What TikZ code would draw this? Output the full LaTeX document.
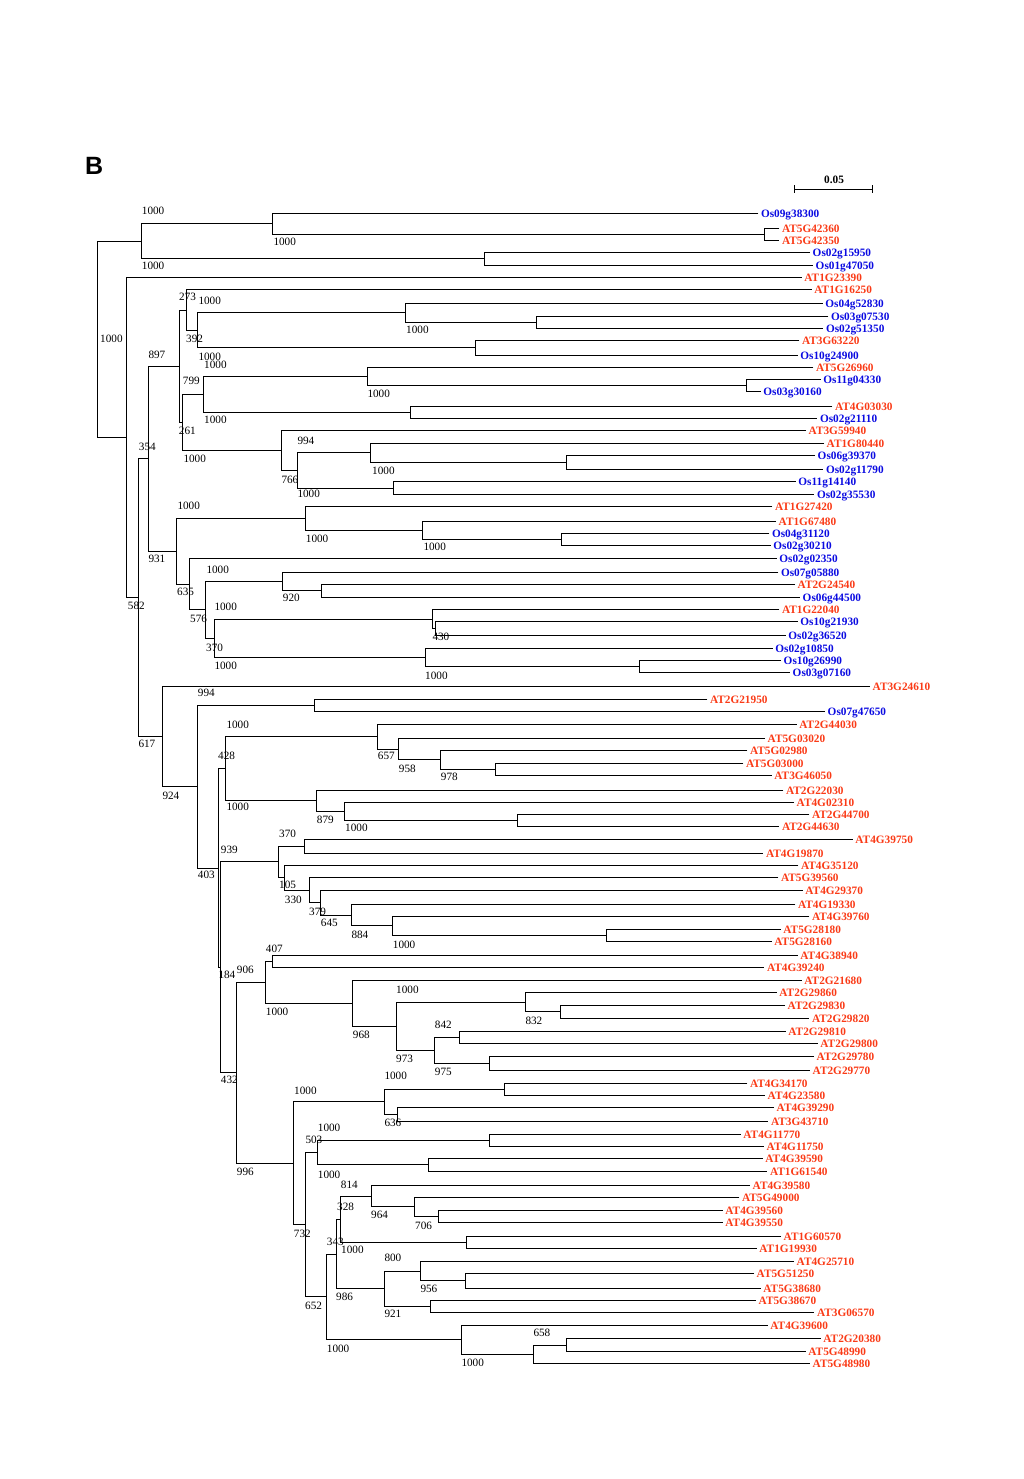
\documentclass[tikz,border=0pt]{standalone}
\usepackage{fontspec}
\setmainfont{Liberation Serif}
\newfontfamily\sansfam{Liberation Sans}
\definecolor{myred}{RGB}{250,58,22}
\definecolor{myblue}{RGB}{10,10,225}
\newcommand\leaffont{\fontsize{11.3}{13}\selectfont\bfseries}
\newcommand\bootfont{\fontsize{11.2}{13}\selectfont}
\tikzset{
  br/.style={line width=1.45pt, line join=miter},
  lf/.style={anchor=west, inner xsep=2.5pt, inner ysep=0pt, font=\leaffont, text height=7.5pt, text depth=0pt},
  rd/.style={lf, text=myred},
  bl/.style={lf, text=myblue},
  bs/.style={anchor=west, inner sep=0pt, font=\bootfont, text height=7.5pt, text depth=0pt}
}
\newcommand\mkc[3]{\coordinate (#1) at ({floor(#2)+0.5},{floor(#3)+0.5});}
\newcommand\leafR[4]{\node[rd] (#1) at (#2,{floor(#3)+0.5}) {#4};}
\newcommand\leafB[4]{\node[bl] (#1) at (#2,{floor(#3)+0.5}) {#4};}
\begin{document}
\begin{tikzpicture}[x=1pt,y=-1pt]
\useasboundingbox (0,0) rectangle (1024,1479);
% panel letter
\node[anchor=base west, inner sep=0pt, font=\sansfam\bfseries\fontsize{25}{28}\selectfont] (panel) at (85,175) {B};
% scale bar
\coordinate (sb1) at (794.5,189.5);
\coordinate (sb2) at (872.5,189.5);
\draw[br] (sb1) -- (sb2);
\draw[br] (794.5,185.5) -- (794.5,193);
\draw[br] (872.5,185.5) -- (872.5,193);
\node[inner sep=0pt, font=\leaffont, text height=7.5pt, text depth=0pt] (sbl) at (834,179.5) {0.05};
% leaves
\leafB{L1}{758.3}{213.5}{Os09g38300}
\leafR{L2}{779.3}{228.3}{AT5G42360}
\leafR{L3}{779.3}{240.3}{AT5G42350}
\leafB{L4}{810}{252.7}{Os02g15950}
\leafB{L5}{813}{265}{Os01g47050}
\leafR{L6}{801.7}{277.3}{AT1G23390}
\leafR{L7}{811.7}{289.7}{AT1G16250}
\leafB{L8}{822.7}{303.7}{Os04g52830}
\leafB{L9}{828.3}{316}{Os03g07530}
\leafB{L10}{823.3}{328.3}{Os02g51350}
\leafR{L11}{799.3}{340.7}{AT3G63220}
\leafB{L12}{797.7}{355}{Os10g24900}
\leafR{L13}{813.3}{367.5}{AT5G26960}
\leafB{L14}{820.7}{379.3}{Os11g04330}
\leafB{L15}{760.7}{391.7}{Os03g30160}
\leafR{L16}{832.3}{406.3}{AT4G03030}
\leafB{L17}{817.3}{418.3}{Os02g21110}
\leafR{L18}{806}{430.7}{AT3G59940}
\leafR{L19}{824}{443}{AT1G80440}
\leafB{L20}{815}{455.7}{Os06g39370}
\leafB{L21}{823.3}{469}{Os02g11790}
\leafB{L22}{795.7}{481.7}{Os11g14140}
\leafB{L23}{814.3}{494.3}{Os02g35530}
\leafR{L24}{772.3}{506.7}{AT1G27420}
\leafR{L25}{776}{521}{AT1G67480}
\leafB{L26}{769.3}{533.3}{Os04g31120}
\leafB{L27}{770.7}{545.7}{Os02g30210}
\leafB{L28}{776.7}{558}{Os02g02350}
\leafB{L29}{778.3}{572.5}{Os07g05880}
\leafR{L30}{795}{584.8}{AT2G24540}
\leafB{L31}{800}{597}{Os06g44500}
\leafR{L32}{779.3}{609.3}{AT1G22040}
\leafB{L33}{797.7}{621.7}{Os10g21930}
\leafB{L34}{785.7}{635.7}{Os02g36520}
\leafB{L35}{772.7}{648}{Os02g10850}
\leafB{L36}{781}{660.7}{Os10g26990}
\leafB{L37}{790}{672.7}{Os03g07160}
\leafR{L38}{870}{686.7}{AT3G24610}
\leafR{L39}{707.3}{699.5}{AT2G21950}
\leafB{L40}{825}{711.5}{Os07g47650}
\leafR{L41}{796.7}{724}{AT2G44030}
\leafR{L42}{765}{738.5}{AT5G03020}
\leafR{L43}{747.3}{750.7}{AT5G02980}
\leafR{L44}{743.3}{763}{AT5G03000}
\leafR{L45}{771.7}{775}{AT3G46050}
\leafR{L46}{783.3}{790}{AT2G22030}
\leafR{L47}{794}{802.3}{AT4G02310}
\leafR{L48}{809.3}{814}{AT2G44700}
\leafR{L49}{779.3}{826.7}{AT2G44630}
\leafR{L50}{852.7}{839.2}{AT4G39750}
\leafR{L51}{763.3}{853}{AT4G19870}
\leafR{L52}{798.3}{865.3}{AT4G35120}
\leafR{L53}{778.3}{877.7}{AT5G39560}
\leafR{L54}{802.7}{890.3}{AT4G29370}
\leafR{L55}{795.3}{904.3}{AT4G19330}
\leafR{L56}{809.3}{916.7}{AT4G39760}
\leafR{L57}{780.7}{929}{AT5G28180}
\leafR{L58}{771.7}{941.3}{AT5G28160}
\leafR{L59}{797.7}{955.5}{AT4G38940}
\leafR{L60}{764.3}{967.8}{AT4G39240}
\leafR{L61}{801.7}{980}{AT2G21680}
\leafR{L62}{776.7}{992.8}{AT2G29860}
\leafR{L63}{785}{1005.2}{AT2G29830}
\leafR{L64}{809.3}{1018.7}{AT2G29820}
\leafR{L65}{785.7}{1031.3}{AT2G29810}
\leafR{L66}{817.7}{1043.8}{AT2G29800}
\leafR{L67}{814}{1056.5}{AT2G29780}
\leafR{L68}{810}{1070.2}{AT2G29770}
\leafR{L69}{747.3}{1083}{AT4G34170}
\leafR{L70}{765}{1095}{AT4G23580}
\leafR{L71}{774}{1107.8}{AT4G39290}
\leafR{L72}{768.3}{1121.5}{AT3G43710}
\leafR{L73}{740.7}{1134}{AT4G11770}
\leafR{L74}{764}{1146.2}{AT4G11750}
\leafR{L75}{762.7}{1158.8}{AT4G39590}
\leafR{L76}{767.3}{1171}{AT1G61540}
\leafR{L77}{750}{1185.3}{AT4G39580}
\leafR{L78}{739.3}{1197.5}{AT5G49000}
\leafR{L79}{722.7}{1210}{AT4G39560}
\leafR{L80}{722.7}{1222.3}{AT4G39550}
\leafR{L81}{781}{1236.5}{AT1G60570}
\leafR{L82}{756.7}{1248.8}{AT1G19930}
\leafR{L83}{794}{1261.2}{AT4G25710}
\leafR{L84}{754}{1273.8}{AT5G51250}
\leafR{L85}{760.7}{1288}{AT5G38680}
\leafR{L86}{756}{1300.3}{AT5G38670}
\leafR{L87}{814.3}{1312.5}{AT3G06570}
\leafR{L88}{767.7}{1325.2}{AT4G39600}
\leafR{L89}{820.7}{1338.8}{AT2G20380}
\leafR{L90}{805.7}{1351.3}{AT5G48990}
\leafR{L91}{810}{1363.7}{AT5G48980}
% internal nodes
\mkc{nA1b}{764.3}{234.3}
\mkc{nA1}{272.7}{223.9}
\mkc{nA2}{484}{258.85}
\mkc{nA}{141.3}{241.4}
\mkc{nF1uu}{536}{322.15}
\mkc{nF1u}{405.7}{312.9}
\mkc{nF1l}{475.3}{347.85}
\mkc{nF1b}{197.3}{330.4}
\mkc{nF1}{186}{310.05}
\mkc{nG1aa}{746}{385.5}
\mkc{nG1a}{367}{376.5}
\mkc{nG1b}{410.7}{412.3}
\mkc{nG1u}{203.3}{394.4}
\mkc{nH1b}{566.7}{462.35}
\mkc{nH1}{370.7}{452.7}
\mkc{nH2}{393.3}{488}
\mkc{nH}{297.3}{470.35}
\mkc{nG1l}{281}{450.5}
\mkc{nG1}{182.7}{422.45}
\mkc{nF}{179}{366.25}
\mkc{nGa3}{561}{539.5}
\mkc{nGa2}{422.3}{530.25}
\mkc{nGa}{305}{518.5}
\mkc{nGb21}{321.7}{590.9}
\mkc{nGb2a}{282.7}{581.7}
\mkc{nGb2b1b}{435.7}{628.7}
\mkc{nGb2b1}{432.3}{619}
\mkc{nGb2b2b}{639.3}{666.7}
\mkc{nGb2b2}{425}{657.35}
\mkc{nGb2b}{214}{638.2}
\mkc{nGb2}{205.7}{609.95}
\mkc{nGb}{189.3}{584}
\mkc{nG}{176.7}{551.25}
\mkc{nD}{148.3}{458.75}
\mkc{nI1}{314}{705.5}
\mkc{nK1c}{495.7}{769}
\mkc{nK1b2}{440.7}{759.85}
\mkc{nK1b}{398.7}{749.2}
\mkc{nK1}{377.7}{736.6}
\mkc{nK2c}{517.3}{820.35}
\mkc{nK2b}{344.7}{811.3}
\mkc{nK2}{316.7}{800.65}
\mkc{nK}{225.7}{768.6}
\mkc{nM1}{304}{846.1}
\mkc{nQ2}{606.7}{935.15}
\mkc{nQ1}{392.3}{925.9}
\mkc{nQ}{351.3}{915.1}
\mkc{nP}{320.7}{902.7}
\mkc{nO}{309}{890.2}
\mkc{nN}{284.3}{877.75}
\mkc{nM}{278.3}{861.9}
\mkc{nT1}{272}{961.65}
\mkc{nW1b}{560}{1011.95}
\mkc{nW1}{525}{1002.4}
\mkc{nX1}{459.3}{1037.55}
\mkc{nX2}{489.3}{1063.35}
\mkc{nX}{434.3}{1050.45}
\mkc{nW}{396}{1026.4}
\mkc{nV}{352.3}{1003.2}
\mkc{nT}{265.7}{982.4}
\mkc{nY1}{504.7}{1089}
\mkc{nY2}{397.7}{1114.65}
\mkc{nY}{384.3}{1101.8}
\mkc{nZ1a}{489}{1140.1}
\mkc{nZ1b}{428}{1164.9}
\mkc{nZ1}{317.3}{1152.5}
\mkc{nZ6b}{438}{1216.15}
\mkc{nZ6}{414.7}{1206.8}
\mkc{nZ5}{371}{1196.05}
\mkc{nZ4b}{466.7}{1242.65}
\mkc{nZ4}{340.7}{1219.35}
\mkc{nZ8b}{465.3}{1280.9}
\mkc{nZ8}{420.7}{1271.05}
\mkc{nZ7b}{430.7}{1306.4}
\mkc{nZ7}{384.3}{1288.7}
\mkc{nZ3}{336}{1254}
\mkc{nZ10a}{566.7}{1345.05}
\mkc{nZ10}{533.3}{1354.4}
\mkc{nZ9}{461.3}{1339.8}
\mkc{nZ2}{326.3}{1296.9}
\mkc{nZ}{305}{1224.7}
\mkc{nU}{293.3}{1163.25}
\mkc{nS}{236}{1072.8}
\mkc{nL}{220.7}{967.35}
\mkc{nJ}{218.3}{868}
\mkc{nI}{197.7}{786.75}
\mkc{nE}{162.3}{736.7}
\mkc{nC}{138.3}{597.7}
\mkc{nB}{126.7}{437.5}
\mkc{nR}{97.3}{339.45}
% branches
\draw[br] (L2) -| (nA1b) |- (L3);
\draw[br] (L1) -| (nA1) |- (nA1b);
\draw[br] (L4) -| (nA2) |- (L5);
\draw[br] (nA1) -| (nA) |- (nA2);
\draw[br] (L9) -| (nF1uu) |- (L10);
\draw[br] (L8) -| (nF1u) |- (nF1uu);
\draw[br] (L11) -| (nF1l) |- (L12);
\draw[br] (nF1u) -| (nF1b) |- (nF1l);
\draw[br] (L7) -| (nF1) |- (nF1b);
\draw[br] (L14) -| (nG1aa) |- (L15);
\draw[br] (L13) -| (nG1a) |- (nG1aa);
\draw[br] (L16) -| (nG1b) |- (L17);
\draw[br] (nG1a) -| (nG1u) |- (nG1b);
\draw[br] (L20) -| (nH1b) |- (L21);
\draw[br] (L19) -| (nH1) |- (nH1b);
\draw[br] (L22) -| (nH2) |- (L23);
\draw[br] (nH1) -| (nH) |- (nH2);
\draw[br] (L18) -| (nG1l) |- (nH);
\draw[br] (nG1u) -| (nG1) |- (nG1l);
\draw[br] (nF1) -| (nF) |- (nG1);
\draw[br] (L26) -| (nGa3) |- (L27);
\draw[br] (L25) -| (nGa2) |- (nGa3);
\draw[br] (L24) -| (nGa) |- (nGa2);
\draw[br] (L30) -| (nGb21) |- (L31);
\draw[br] (L29) -| (nGb2a) |- (nGb21);
\draw[br] (L33) -| (nGb2b1b) |- (L34);
\draw[br] (L32) -| (nGb2b1) |- (nGb2b1b);
\draw[br] (L36) -| (nGb2b2b) |- (L37);
\draw[br] (L35) -| (nGb2b2) |- (nGb2b2b);
\draw[br] (nGb2b1) -| (nGb2b) |- (nGb2b2);
\draw[br] (nGb2a) -| (nGb2) |- (nGb2b);
\draw[br] (L28) -| (nGb) |- (nGb2);
\draw[br] (nGa) -| (nG) |- (nGb);
\draw[br] (nF) -| (nD) |- (nG);
\draw[br] (L39) -| (nI1) |- (L40);
\draw[br] (L44) -| (nK1c) |- (L45);
\draw[br] (L43) -| (nK1b2) |- (nK1c);
\draw[br] (L42) -| (nK1b) |- (nK1b2);
\draw[br] (L41) -| (nK1) |- (nK1b);
\draw[br] (L48) -| (nK2c) |- (L49);
\draw[br] (L47) -| (nK2b) |- (nK2c);
\draw[br] (L46) -| (nK2) |- (nK2b);
\draw[br] (nK1) -| (nK) |- (nK2);
\draw[br] (L50) -| (nM1) |- (L51);
\draw[br] (L57) -| (nQ2) |- (L58);
\draw[br] (L56) -| (nQ1) |- (nQ2);
\draw[br] (L55) -| (nQ) |- (nQ1);
\draw[br] (L54) -| (nP) |- (nQ);
\draw[br] (L53) -| (nO) |- (nP);
\draw[br] (L52) -| (nN) |- (nO);
\draw[br] (nM1) -| (nM) |- (nN);
\draw[br] (L59) -| (nT1) |- (L60);
\draw[br] (L63) -| (nW1b) |- (L64);
\draw[br] (L62) -| (nW1) |- (nW1b);
\draw[br] (L65) -| (nX1) |- (L66);
\draw[br] (L67) -| (nX2) |- (L68);
\draw[br] (nX1) -| (nX) |- (nX2);
\draw[br] (nW1) -| (nW) |- (nX);
\draw[br] (L61) -| (nV) |- (nW);
\draw[br] (nT1) -| (nT) |- (nV);
\draw[br] (L69) -| (nY1) |- (L70);
\draw[br] (L71) -| (nY2) |- (L72);
\draw[br] (nY1) -| (nY) |- (nY2);
\draw[br] (L73) -| (nZ1a) |- (L74);
\draw[br] (L75) -| (nZ1b) |- (L76);
\draw[br] (nZ1a) -| (nZ1) |- (nZ1b);
\draw[br] (L79) -| (nZ6b) |- (L80);
\draw[br] (L78) -| (nZ6) |- (nZ6b);
\draw[br] (L77) -| (nZ5) |- (nZ6);
\draw[br] (L81) -| (nZ4b) |- (L82);
\draw[br] (nZ5) -| (nZ4) |- (nZ4b);
\draw[br] (L84) -| (nZ8b) |- (L85);
\draw[br] (L83) -| (nZ8) |- (nZ8b);
\draw[br] (L86) -| (nZ7b) |- (L87);
\draw[br] (nZ8) -| (nZ7) |- (nZ7b);
\draw[br] (nZ4) -| (nZ3) |- (nZ7);
\draw[br] (L89) -| (nZ10a) |- (L90);
\draw[br] (nZ10a) -| (nZ10) |- (L91);
\draw[br] (L88) -| (nZ9) |- (nZ10);
\draw[br] (nZ3) -| (nZ2) |- (nZ9);
\draw[br] (nZ1) -| (nZ) |- (nZ2);
\draw[br] (nY) -| (nU) |- (nZ);
\draw[br] (nT) -| (nS) |- (nU);
\draw[br] (nM) -| (nL) |- (nS);
\draw[br] (nK) -| (nJ) |- (nL);
\draw[br] (nI1) -| (nI) |- (nJ);
\draw[br] (L38) -| (nE) |- (nI);
\draw[br] (nD) -| (nC) |- (nE);
\draw[br] (L6) -| (nB) |- (nC);
\draw[br] (nA) -| (nR) |- (nB);
% bootstrap values
\node[bs] (b1) at (141.7,210.7) {1000};
\node[bs] (b2) at (273.3,241.7) {1000};
\node[bs] (b3) at (141.7,265.7) {1000};
\node[bs] (b4) at (100,338.3) {1000};
\node[bs] (b5) at (179,296.7) {273};
\node[bs] (b6) at (198.3,301) {1000};
\node[bs] (b7) at (406,330) {1000};
\node[bs] (b8) at (186,338.3) {392};
\node[bs] (b9) at (198.3,356.7) {1000};
\node[bs] (b10) at (204,364.3) {1000};
\node[bs] (b11) at (148.3,354.3) {897};
\node[bs] (b12) at (182.7,380.3) {799};
\node[bs] (b13) at (367.3,393.3) {1000};
\node[bs] (b14) at (204,420) {1000};
\node[bs] (b15) at (178.7,430.3) {261};
\node[bs] (b16) at (138.7,446.3) {354};
\node[bs] (b17) at (297.3,440.7) {994};
\node[bs] (b18) at (183.3,459) {1000};
\node[bs] (b19) at (372,471) {1000};
\node[bs] (b20) at (281.3,479.3) {766};
\node[bs] (b21) at (297.3,493.5) {1000};
\node[bs] (b22) at (177.3,506) {1000};
\node[bs] (b23) at (305.7,538.7) {1000};
\node[bs] (b24) at (423.3,546.7) {1000};
\node[bs] (b25) at (148.3,559) {931};
\node[bs] (b26) at (177,591.7) {635};
\node[bs] (b27) at (206.3,569.3) {1000};
\node[bs] (b28) at (282.7,598) {920};
\node[bs] (b29) at (190,618.3) {576};
\node[bs] (b30) at (206,647.3) {370};
\node[bs] (b31) at (214.3,606.3) {1000};
\node[bs] (b32) at (432.3,636.7) {430};
\node[bs] (b33) at (214.3,665.7) {1000};
\node[bs] (b34) at (425,676) {1000};
\node[bs] (b35) at (127.7,606) {582};
\node[bs] (b36) at (197.7,692.5) {994};
\node[bs] (b37) at (138.3,743.3) {617};
\node[bs] (b38) at (226.3,724.3) {1000};
\node[bs] (b39) at (377.7,756) {657};
\node[bs] (b40) at (398.7,768.3) {958};
\node[bs] (b41) at (440.7,776.7) {978};
\node[bs] (b42) at (218,756) {428};
\node[bs] (b43) at (162.3,795.3) {924};
\node[bs] (b44) at (226.3,807) {1000};
\node[bs] (b45) at (316.7,819.3) {879};
\node[bs] (b46) at (345,827.7) {1000};
\node[bs] (b47) at (279,834) {370};
\node[bs] (b48) at (220.7,850) {939};
\node[bs] (b49) at (197.7,875) {403};
\node[bs] (b50) at (279,885) {105};
\node[bs] (b51) at (284.7,899.7) {330};
\node[bs] (b52) at (309,912) {379};
\node[bs] (b53) at (320.7,922.3) {645};
\node[bs] (b54) at (351.3,934.7) {884};
\node[bs] (b55) at (392.7,944.7) {1000};
\node[bs] (b56) at (265.7,948.7) {407};
\node[bs] (b57) at (236.7,969.3) {906};
\node[bs] (b58) at (218.3,975) {184};
\node[bs] (b59) at (265.7,1012) {1000};
\node[bs] (b60) at (352.7,1035) {968};
\node[bs] (b61) at (396,990) {1000};
\node[bs] (b62) at (525.3,1020.3) {832};
\node[bs] (b63) at (434.7,1024.3) {842};
\node[bs] (b64) at (396,1059) {973};
\node[bs] (b65) at (434.7,1071.7) {975};
\node[bs] (b66) at (220.7,1080) {432};
\node[bs] (b67) at (384.3,1075.7) {1000};
\node[bs] (b68) at (294,1090.3) {1000};
\node[bs] (b69) at (384.3,1122.7) {636};
\node[bs] (b70) at (317.7,1127.3) {1000};
\node[bs] (b71) at (305.3,1139.3) {503};
\node[bs] (b72) at (236.7,1172) {996};
\node[bs] (b73) at (317.7,1174.3) {1000};
\node[bs] (b74) at (340.7,1184.3) {814};
\node[bs] (b75) at (337,1207) {328};
\node[bs] (b76) at (371,1214.7) {964};
\node[bs] (b77) at (415,1225.3) {706};
\node[bs] (b78) at (293.7,1233.3) {732};
\node[bs] (b79) at (326.7,1241.7) {343};
\node[bs] (b80) at (341,1250) {1000};
\node[bs] (b81) at (384.3,1258) {800};
\node[bs] (b82) at (420.3,1288.7) {956};
\node[bs] (b83) at (336,1297) {986};
\node[bs] (b84) at (305,1305.7) {652};
\node[bs] (b85) at (384.3,1314) {921};
\node[bs] (b86) at (533.3,1332.3) {658};
\node[bs] (b87) at (326.7,1348.7) {1000};
\node[bs] (b88) at (461.3,1363) {1000};
\end{tikzpicture}
\end{document}
